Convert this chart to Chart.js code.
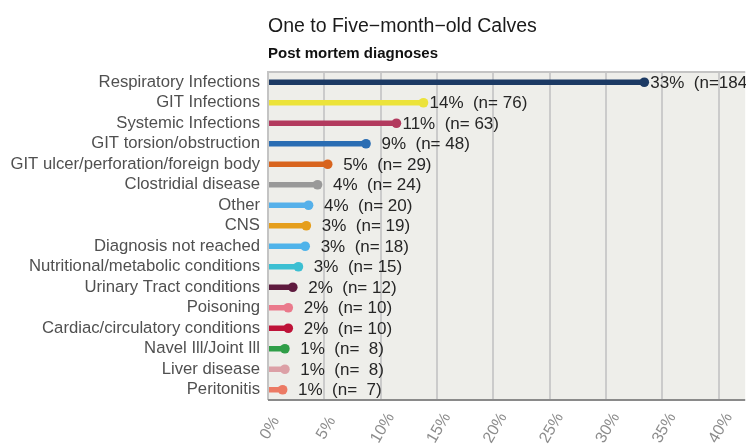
<!DOCTYPE html>
<html>
<head>
<meta charset="utf-8">
<script src="https://cdn.jsdelivr.net/npm/chart.js@4"></script>
<style>
  body { margin: 0; background: #fff; }
  #wrap { position: relative; width: 746px; height: 445px; overflow: hidden; }
</style>
</head>
<body>
<div id="wrap">
  <canvas id="calvesChart" width="746" height="445"></canvas>
</div>
<script>
const chartTitle = 'One to Five−month−old Calves';
const chartSubtitle = 'Post mortem diagnoses';
const diagnoses = ['Respiratory Infections', 'GIT Infections', 'Systemic Infections', 'GIT torsion/obstruction',
  'GIT ulcer/perforation/foreign body', 'Clostridial disease', 'Other', 'CNS', 'Diagnosis not reached',
  'Nutritional/metabolic conditions', 'Urinary Tract conditions', 'Poisoning', 'Cardiac/circulatory conditions',
  'Navel Ill/Joint Ill', 'Liver disease', 'Peritonitis'];
const share = [33.4, 13.8, 11.4, 8.7, 5.3, 4.4, 3.6, 3.4, 3.3, 2.7, 2.2, 1.8, 1.8, 1.5, 1.5, 1.3];
const shareLabel = [33, 14, 11, 9, 5, 4, 4, 3, 3, 3, 2, 2, 2, 1, 1, 1];
const counts = [184, 76, 63, 48, 29, 24, 20, 19, 18, 15, 12, 10, 10, 8, 8, 7];
const xTicks = ['0%', '5%', '10%', '15%', '20%', '25%', '30%', '35%', '40%'];
const colours = ['#1c3a64', '#ece33a', '#b23a5e', '#2a6db3', '#d8641e', '#999999', '#55b0ea', '#e59e1c',
  '#4fb3ea', '#3cbfd2', '#5e1a3e', '#ea7a8c', '#be1238', '#2f9e48', '#dca0a6', '#ec7a64'];

const FIG = '\u2007';
const FONT = '"Liberation Sans", Arial, sans-serif';

// plot background, frame, titles, value labels and slanted x labels
const frame = {
  id: 'frame',
  beforeDraw(chart) {
    const {ctx, chartArea: a} = chart;
    ctx.save();
    ctx.fillStyle = '#eeeeea';
    ctx.fillRect(a.left, a.top, a.right - a.left + 4, a.bottom - a.top);
    ctx.restore();
  },
  afterDraw(chart) {
    const {ctx, chartArea: a, scales} = chart;
    ctx.save();
    ctx.lineWidth = 2;
    ctx.strokeStyle = '#c4c4c4';
    ctx.beginPath();
    ctx.moveTo(a.left, a.bottom);
    ctx.lineTo(a.left, a.top);
    ctx.lineTo(a.right + 4, a.top);
    ctx.stroke();
    ctx.strokeStyle = '#8a8a8a';
    ctx.beginPath();
    ctx.moveTo(a.left, a.bottom);
    ctx.lineTo(a.right + 4, a.bottom);
    ctx.stroke();

    ctx.textBaseline = 'alphabetic';
    ctx.fillStyle = '#1a1a1a';
    ctx.font = '19.5px ' + FONT;
    ctx.fillText(chartTitle, a.left, 32);
    ctx.fillStyle = '#111';
    ctx.font = 'bold 15px ' + FONT;
    ctx.fillText(chartSubtitle, a.left, 58);

    ctx.font = '17px ' + FONT;
    ctx.fillStyle = '#262626';
    ctx.textBaseline = 'middle';
    share.forEach((v, i) => {
      const x = scales.x.getPixelForValue(v) + 6;
      const y = scales.y.getPixelForValue(i) + 1;
      const p = String(shareLabel[i]).padStart(2, FIG);
      const n = String(counts[i]).padStart(3, ' ');
      ctx.fillText(p + '%  (n=' + n + ')', x, y);
    });

    ctx.font = '16px ' + FONT;
    ctx.fillStyle = '#8c8c8c';
    ctx.textAlign = 'center';
    xTicks.forEach((t, i) => {
      const x = scales.x.getPixelForValue(i * 5);
      ctx.save();
      ctx.translate(x + 2, a.bottom + 28);
      ctx.rotate(-Math.PI / 3);
      ctx.fillText(t, 0, 0);
      ctx.restore();
    });
    ctx.restore();
  }
};

new Chart(document.getElementById('calvesChart'), {
  type: 'bar',
  data: {
    labels: diagnoses,
    datasets: [{
      data: share,
      backgroundColor: colours,
      barThickness: 5,
      order: 2
    }, {
      type: 'line',
      data: share,
      showLine: false,
      pointRadius: 4.8,
      pointBorderWidth: 0,
      pointBackgroundColor: colours,
      order: 1
    }]
  },
  options: {
    indexAxis: 'y',
    responsive: false,
    animation: false,
    layout: { padding: { top: 72, right: 0, left: 0, bottom: 0 } },
    plugins: { legend: { display: false }, tooltip: { enabled: false } },
    scales: {
      x: {
        min: 0, max: 42,
        afterBuildTicks: s => { s.ticks = s.ticks.filter(t => t.value % 5 === 0); },
        afterFit: s => { s.height = 45; },
        ticks: { stepSize: 5, display: false },
        grid: { color: '#cbcbcb', lineWidth: 2, drawTicks: false },
        border: { display: false }
      },
      y: {
        afterFit: s => { s.width = 268; },
        grid: { display: false, drawTicks: false },
        border: { display: false },
        ticks: { autoSkip: false, color: '#505050', padding: 8, font: { size: 16.7, family: FONT } }
      }
    }
  },
  plugins: [frame]
});
</script>
</body>
</html>
